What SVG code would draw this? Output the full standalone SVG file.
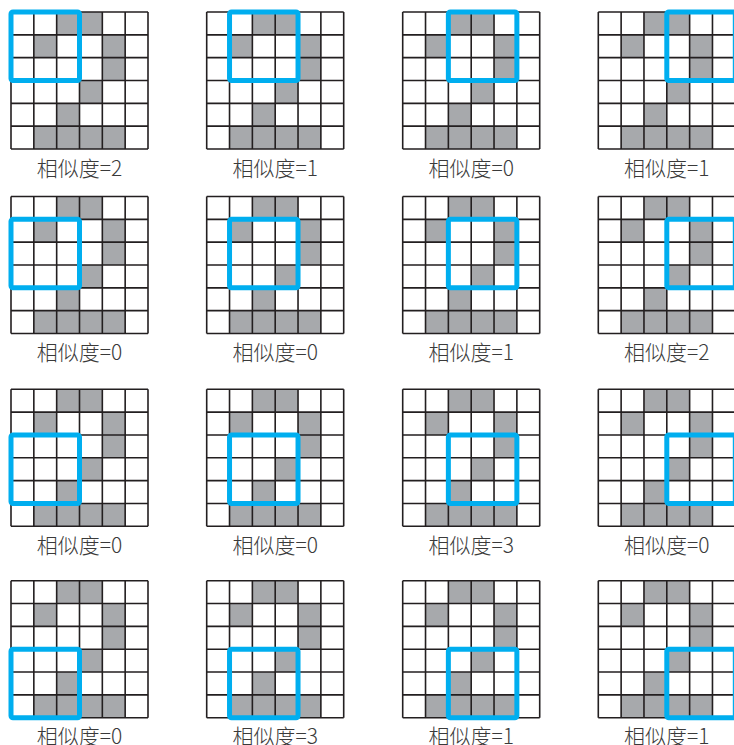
<svg xmlns="http://www.w3.org/2000/svg" xmlns:xlink="http://www.w3.org/1999/xlink" width="734" height="745" viewBox="0 0 734 745">
<style>
.cell{fill:#a7a9ac}
.lines{fill:none;stroke:#231f20;stroke-width:1.6}
.win{fill:none;stroke:#00aeef;stroke-width:5}
.lbl{font-family:"Noto Sans CJK SC","Noto Sans",sans-serif;font-size:21px;font-weight:300;fill:#3a3a3a;text-anchor:middle}
</style>
<defs>
<g id="grid">
<rect x="0" y="0" width="137" height="137" fill="#fff"/>
<rect class="cell" x="45.67" y="0" width="22.83" height="22.83"/>
<rect class="cell" x="68.5" y="0" width="22.83" height="22.83"/>
<rect class="cell" x="22.83" y="22.83" width="22.83" height="22.83"/>
<rect class="cell" x="91.33" y="22.83" width="22.83" height="22.83"/>
<rect class="cell" x="91.33" y="45.67" width="22.83" height="22.83"/>
<rect class="cell" x="68.5" y="68.5" width="22.83" height="22.83"/>
<rect class="cell" x="45.67" y="91.33" width="22.83" height="22.83"/>
<rect class="cell" x="22.83" y="114.17" width="91.33" height="22.83"/>
<path class="lines" d="M0 0V137M22.83 0V137M45.67 0V137M68.5 0V137M91.33 0V137M114.17 0V137M137 0V137M0 0H137M0 22.83H137M0 45.67H137M0 68.5H137M0 91.33H137M0 114.17H137M0 137H137"/>
</g>
</defs>
<g id="connectors"></g>

<g id="n00" transform="translate(11,12)"><use xlink:href="#grid"/><rect class="win" x="0" y="0" width="68.5" height="68.5" rx="2"/><text class="lbl" x="68.5" y="163.5">相似度=2</text></g>
<g id="n01" transform="translate(206.7,12)"><use xlink:href="#grid"/><rect class="win" x="22.83" y="0" width="68.5" height="68.5" rx="2"/><text class="lbl" x="68.5" y="163.5">相似度=1</text></g>
<g id="n02" transform="translate(402.7,12)"><use xlink:href="#grid"/><rect class="win" x="45.67" y="0" width="68.5" height="68.5" rx="2"/><text class="lbl" x="68.5" y="163.5">相似度=0</text></g>
<g id="n03" transform="translate(598.3,12)"><use xlink:href="#grid"/><rect class="win" x="68.5" y="0" width="68.5" height="68.5" rx="2"/><text class="lbl" x="68.5" y="163.5">相似度=1</text></g>

<g id="n10" transform="translate(11,196.5)"><use xlink:href="#grid"/><rect class="win" x="0" y="22.83" width="68.5" height="68.5" rx="2"/><text class="lbl" x="68.5" y="163.5">相似度=0</text></g>
<g id="n11" transform="translate(206.7,196.5)"><use xlink:href="#grid"/><rect class="win" x="22.83" y="22.83" width="68.5" height="68.5" rx="2"/><text class="lbl" x="68.5" y="163.5">相似度=0</text></g>
<g id="n12" transform="translate(402.7,196.5)"><use xlink:href="#grid"/><rect class="win" x="45.67" y="22.83" width="68.5" height="68.5" rx="2"/><text class="lbl" x="68.5" y="163.5">相似度=1</text></g>
<g id="n13" transform="translate(598.3,196.5)"><use xlink:href="#grid"/><rect class="win" x="68.5" y="22.83" width="68.5" height="68.5" rx="2"/><text class="lbl" x="68.5" y="163.5">相似度=2</text></g>

<g id="n20" transform="translate(11,389.3)"><use xlink:href="#grid"/><rect class="win" x="0" y="45.67" width="68.5" height="68.5" rx="2"/><text class="lbl" x="68.5" y="163.5">相似度=0</text></g>
<g id="n21" transform="translate(206.7,389.3)"><use xlink:href="#grid"/><rect class="win" x="22.83" y="45.67" width="68.5" height="68.5" rx="2"/><text class="lbl" x="68.5" y="163.5">相似度=0</text></g>
<g id="n22" transform="translate(402.7,389.3)"><use xlink:href="#grid"/><rect class="win" x="45.67" y="45.67" width="68.5" height="68.5" rx="2"/><text class="lbl" x="68.5" y="163.5">相似度=3</text></g>
<g id="n23" transform="translate(598.3,389.3)"><use xlink:href="#grid"/><rect class="win" x="68.5" y="45.67" width="68.5" height="68.5" rx="2"/><text class="lbl" x="68.5" y="163.5">相似度=0</text></g>

<g id="n30" transform="translate(11,580.7)"><use xlink:href="#grid"/><rect class="win" x="0" y="68.5" width="68.5" height="68.5" rx="2"/><text class="lbl" x="68.5" y="163">相似度=0</text></g>
<g id="n31" transform="translate(206.7,580.7)"><use xlink:href="#grid"/><rect class="win" x="22.83" y="68.5" width="68.5" height="68.5" rx="2"/><text class="lbl" x="68.5" y="163">相似度=3</text></g>
<g id="n32" transform="translate(402.7,580.7)"><use xlink:href="#grid"/><rect class="win" x="45.67" y="68.5" width="68.5" height="68.5" rx="2"/><text class="lbl" x="68.5" y="163">相似度=1</text></g>
<g id="n33" transform="translate(598.3,580.7)"><use xlink:href="#grid"/><rect class="win" x="68.5" y="68.5" width="68.5" height="68.5" rx="2"/><text class="lbl" x="68.5" y="163">相似度=1</text></g>
</svg>
